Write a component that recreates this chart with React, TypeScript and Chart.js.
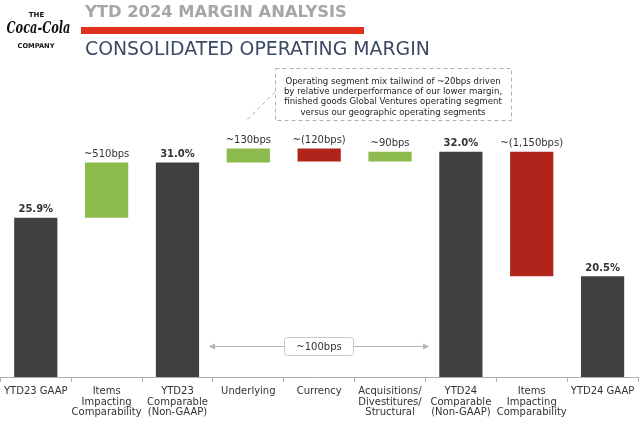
import React, { useEffect, useRef } from "react";
import { Chart, registerables } from "chart.js";

Chart.register(...registerables);

// ---- Data ----
const categories: string[][] = [
  ["YTD23 GAAP"],
  ["Items", "Impacting", "Comparability"],
  ["YTD23", "Comparable", "(Non-GAAP)"],
  ["Underlying"],
  ["Currency"],
  ["Acquisitions/", "Divestitures/", "Structural"],
  ["YTD24", "Comparable", "(Non-GAAP)"],
  ["Items", "Impacting", "Comparability"],
  ["YTD24 GAAP"],
];
const kinds = ["total", "delta", "total", "delta", "delta", "delta", "total", "delta", "total"];
const values = [25.9, 5.1, 31.0, 1.3, -1.2, 0.9, 32.0, -11.5, 20.5];
const valueLabels = ["25.9%", "~510bps", "31.0%", "~130bps", "~(120bps)", "~90bps", "32.0%", "~(1,150bps)", "20.5%"];
const noteLines = [
  "Operating segment mix tailwind of ~20bps driven",
  "by relative underperformance of our lower margin,",
  "finished goods Global Ventures operating segment",
  "versus our geographic operating segments",
];
const bracketLabel = "~100bps";
const title = "YTD 2024 MARGIN ANALYSIS";
const subtitle = "CONSOLIDATED OPERATING MARGIN";
const Y_MIN = 11.2;
const Y_MAX = 34;

const COLOR_TOTAL = "#404040";
const COLOR_UP = "#8cba4d";
const COLOR_DOWN = "#b0241b";
const FONT = "'DejaVu Sans', sans-serif";

// build floating bar table from the arrays
function buildBars() {
  let running = 0;
  const data: (number | [number, number])[] = [];
  const colors: string[] = [];
  values.forEach((v, i) => {
    if (kinds[i] === "total") {
      running = v;
      data.push(v);
      colors.push(COLOR_TOTAL);
    } else {
      const start = running;
      running = Math.round((running + v) * 100) / 100;
      data.push([start, running]);
      colors.push(v >= 0 ? COLOR_UP : COLOR_DOWN);
    }
  });
  return { data, colors };
}

function fitFont(ctx: CanvasRenderingContext2D, text: string, width: number, weight: string, family: string, style = "") {
  ctx.font = `${style} ${weight} 20px ${family}`;
  const w = ctx.measureText(text).width;
  const size = (20 * width) / w;
  ctx.font = `${style} ${weight} ${size}px ${family}`;
  return size;
}

const decorPlugin = {
  id: "decor",
  afterDraw(chart: any) {
    const ctx: CanvasRenderingContext2D = chart.ctx;
    ctx.save();
    // Logo
    ctx.fillStyle = "#111";
    ctx.textAlign = "center";
    ctx.textBaseline = "middle";
    ctx.font = `bold 7px ${FONT}`;
    ctx.fillText("THE", 36.5, 15);
    fitFont(ctx, "COMPANY", 37, "bold", FONT);
    ctx.fillText("COMPANY", 36, 46);
    ctx.save();
    ctx.translate(38.5, 29);
    ctx.scale(1, 1.45);
    fitFont(ctx, "Coca-Cola", 64, "bold", "'DejaVu Serif', serif", "italic");
    ctx.fillText("Coca-Cola", 0, 0);
    ctx.restore();

    // Title
    ctx.textAlign = "left";
    ctx.fillStyle = "#a6a6a6";
    fitFont(ctx, title, 262, "bold", FONT);
    ctx.fillText(title, 85, 13);
    ctx.fillStyle = "#e0301e";
    ctx.fillRect(81, 27, 283, 7);
    ctx.fillStyle = "#3b4a64";
    fitFont(ctx, subtitle, 345, "normal", FONT);
    ctx.fillText(subtitle, 85, 50);

    // Annotation box
    ctx.strokeStyle = "#b0b0b0";
    ctx.lineWidth = 1;
    ctx.setLineDash([4, 3]);
    ctx.strokeRect(275.5, 68.5, 236, 52);
    ctx.beginPath();
    ctx.moveTo(275, 92);
    ctx.lineTo(247, 120);
    ctx.stroke();
    ctx.setLineDash([]);
    ctx.fillStyle = "#222";
    ctx.textAlign = "center";
    fitFont(ctx, noteLines[2], 218, "normal", FONT);
    noteLines.forEach((line, i) => ctx.fillText(line, 393, 81.5 + i * 10.3));

    // ~100bps bracket
    const y = 346.5;
    ctx.strokeStyle = "#b5b5b5";
    ctx.fillStyle = "#b5b5b5";
    ctx.beginPath();
    ctx.moveTo(212, y);
    ctx.lineTo(284, y);
    ctx.moveTo(353, y);
    ctx.lineTo(426, y);
    ctx.stroke();
    ctx.beginPath();
    ctx.moveTo(209, y);
    ctx.lineTo(215, y - 3);
    ctx.lineTo(215, y + 3);
    ctx.closePath();
    ctx.fill();
    ctx.beginPath();
    ctx.moveTo(429, y);
    ctx.lineTo(423, y - 3);
    ctx.lineTo(423, y + 3);
    ctx.closePath();
    ctx.fill();
    ctx.strokeStyle = "#c8c8c8";
    ctx.beginPath();
    (ctx as any).roundRect(284.5, 337.5, 69, 18, 3);
    ctx.stroke();
    ctx.fillStyle = "#333";
    ctx.font = `10px ${FONT}`;
    ctx.fillText(bracketLabel, 319, 347);
    ctx.restore();
  },
};

const valueLabelPlugin = {
  id: "valueLabels",
  afterDatasetsDraw(chart: any) {
    const ctx: CanvasRenderingContext2D = chart.ctx;
    const meta = chart.getDatasetMeta(0);
    ctx.save();
    ctx.textAlign = "center";
    ctx.textBaseline = "middle";
    meta.data.forEach((bar: any, i: number) => {
      const top = Math.min(bar.y, bar.base);
      const isTotal = kinds[i] === "total";
      ctx.font = `${isTotal ? "bold 10px" : "10px"} ${FONT}`;
      ctx.fillStyle = "#333";
      ctx.fillText(valueLabels[i], bar.x, top - 8);
    });
    ctx.restore();
  },
};

export default function App() {
  const ref = useRef<HTMLCanvasElement>(null);
  useEffect(() => {
    if (!ref.current) return;
    const { data, colors } = buildBars();
    const chart = new Chart(ref.current, {
      type: "bar",
      data: {
        labels: categories,
        datasets: [
          {
            data: data as any,
            backgroundColor: colors,
            borderWidth: 0,
            barPercentage: 0.61,
            categoryPercentage: 1,
          },
        ],
      },
      options: {
        responsive: false,
        animation: false,
        layout: { padding: { top: 130, left: 0, right: 2, bottom: 0 } },
        plugins: { legend: { display: false }, tooltip: { enabled: false } },
        scales: {
          x: {
            grid: { display: true, drawOnChartArea: false, drawTicks: true, tickLength: 5, color: "#b0b0b0", offset: true },
            border: { display: true, color: "#b0b0b0" },
            ticks: { font: { family: FONT, size: 10, lineHeight: 1.07 }, color: "#333", padding: 4, maxRotation: 0, autoSkip: false },
            afterFit: (scale: any) => {
              scale.height = 60;
            },
          },
          y: { display: false, min: Y_MIN, max: Y_MAX },
        },
      },
      plugins: [decorPlugin, valueLabelPlugin],
    });
    return () => chart.destroy();
  }, []);
  return (
    <div style={{ position: "fixed", left: 0, top: 0, width: 640, height: 437, background: "#fff" }}>
      <canvas ref={ref} width={640} height={437} />
    </div>
  );
}
